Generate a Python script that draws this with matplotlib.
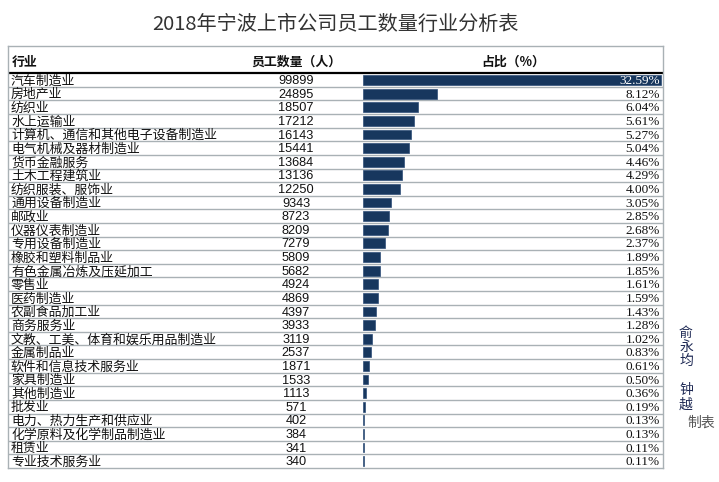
"""
2018年宁波上市公司员工数量行业分析表 —— 表格 + 条形占比
"""

import matplotlib.pyplot as plt

plt.rcParams["font.family"] = ["Noto Sans CJK SC", "DejaVu Sans"]

# 行业、员工数量、占比(%)
INDUSTRIES = [
    "汽车制造业", "房地产业", "纺织业", "水上运输业",
    "计算机、通信和其他电子设备制造业", "电气机械及器材制造业", "货币金融服务",
    "土木工程建筑业", "纺织服装、服饰业", "通用设备制造业", "邮政业",
    "仪器仪表制造业", "专用设备制造业", "橡胶和塑料制品业", "有色金属冶炼及压延加工",
    "零售业", "医药制造业", "农副食品加工业", "商务服务业",
    "文教、工美、体育和娱乐用品制造业", "金属制品业", "软件和信息技术服务业",
    "家具制造业", "其他制造业", "批发业", "电力、热力生产和供应业",
    "化学原料及化学制品制造业", "租赁业", "专业技术服务业",
]
EMPLOYEES = [
    99899, 24895, 18507, 17212, 16143, 15441, 13684, 13136, 12250, 9343,
    8723, 8209, 7279, 5809, 5682, 4924, 4869, 4397, 3933, 3119,
    2537, 1871, 1533, 1113, 571, 402, 384, 341, 340,
]
SHARES = [
    32.59, 8.12, 6.04, 5.61, 5.27, 5.04, 4.46, 4.29, 4.00, 3.05,
    2.85, 2.68, 2.37, 1.89, 1.85, 1.61, 1.59, 1.43, 1.28, 1.02,
    0.83, 0.61, 0.50, 0.36, 0.19, 0.13, 0.13, 0.11, 0.11,
]
HEADERS = ["行业", "员工数量（人）", "占比（%）"]

W, H = 719, 482
BAR_COLOR = "#17375e"
GRID_COLOR = "#a9b1b5"


def fx(px):
    return px / W


def fy(py):
    return 1 - py / H


fig = plt.figure(figsize=(W / 100, H / 100), dpi=100)
fig.patch.set_facecolor("white")

n = len(INDUSTRIES)
ymax = n + 2  # 表头占两行高度

# 表格主区域
ax = fig.add_axes([fx(8), fy(468), fx(663 - 8), (468 - 46) / H])
ax.set_xlim(8, 663)
ax.set_ylim(ymax, 0)
ax.set_xticks([])
ax.set_yticks([])
for s in ax.spines.values():
    s.set_color(GRID_COLOR)
    s.set_linewidth(1.0)

# 行分隔线
for i in range(1, n):
    ax.axhline(2 + i, color=GRID_COLOR, lw=1.0)
ax.axhline(2, color="black", lw=1.6)

# 表头
ax.text(12, 1.15, HEADERS[0], ha="left", va="center", fontsize=9.3,
        fontweight="bold", color="#111")
ax.text(296, 1.15, HEADERS[1], ha="center", va="center", fontsize=9.3,
        fontweight="bold", color="#111")
ax.text(513, 1.15, HEADERS[2], ha="center", va="center", fontsize=9.3,
        fontweight="bold", color="#111")

for i, (name, num) in enumerate(zip(INDUSTRIES, EMPLOYEES)):
    y = 2.58 + i
    ax.text(11, y, name, ha="left", va="center", fontsize=9.3, color="#111")
    ax.text(296, y, str(num), ha="center", va="center", fontsize=9.2,
            family="Liberation Sans", color="#111")

# 占比条形
bx0, bx1 = 363, 663
bar_ax = fig.add_axes([fx(bx0), fy(468), fx(bx1 - bx0), (468 - 46) / H])
bar_ax.set_ylim(ymax, 0)
bar_ax.set_xlim(0, max(SHARES) * (bx1 - bx0) / 298)
bar_ax.axis("off")
bar_ax.patch.set_alpha(0)

ypos = [2.5 + i for i in range(n)]
bar_ax.barh(ypos, SHARES, height=0.72, color=BAR_COLOR,
            edgecolor="#2f4f78", linewidth=0.5)

for y, v in zip(ypos, SHARES):
    color = "white" if v == max(SHARES) else "#111"
    bar_ax.text(0.99, y + 0.08, f"{v:.2f}%",
                transform=bar_ax.get_yaxis_transform(),
                ha="right", va="center", fontsize=9.5,
                family="Liberation Serif", color=color)

# 标题
fig.text(fx(335), fy(24), "2018年宁波上市公司员工数量行业分析表",
         ha="center", va="center", fontsize=14.5, color="#333")

# 右侧署名
for ch, py in zip("俞永均", [333, 347, 361]):
    fig.text(fx(686), fy(py), ch, ha="center", va="center", fontsize=10,
             color="#1f2a55")
for ch, py in zip("钟越", [390, 405]):
    fig.text(fx(686), fy(py), ch, ha="center", va="center", fontsize=10,
             color="#1f2a55")
fig.text(fx(701), fy(423), "制表", ha="center", va="center", fontsize=10,
         color="#555")

fig.savefig("out.png", dpi=100)
plt.close(fig)
